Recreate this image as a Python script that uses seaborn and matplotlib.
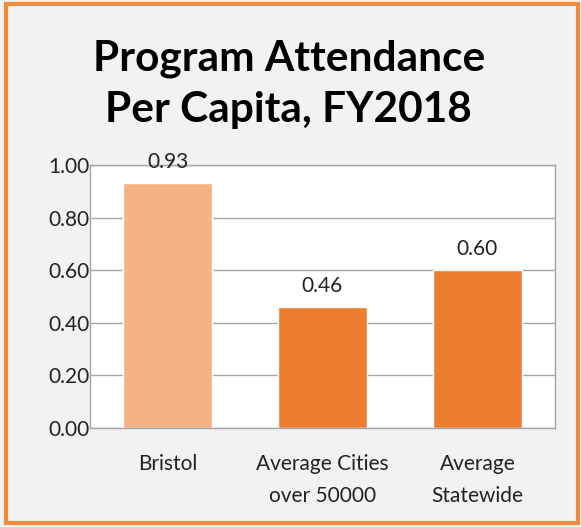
import matplotlib
matplotlib.use("Agg")
import matplotlib.pyplot as plt
import seaborn as sns
import pandas as pd
from matplotlib.patches import Rectangle

categories = ["Bristol", "Average Cities\nover 50000", "Average\nStatewide"]
values = [0.93, 0.46, 0.60]
bar_colors = ["#F4B183", "#ED7D31", "#ED7D31"]
yticks = [0.0, 0.2, 0.4, 0.6, 0.8, 1.0]
title_lines = ["Program Attendance", "Per Capita, FY2018"]

sns.set_theme(style="white")
plt.rcParams["font.family"] = ["Lato", "DejaVu Sans"]

df = pd.DataFrame({"category": categories, "value": values})

fig = plt.figure(figsize=(5.81, 5.27), dpi=100, facecolor="#F2F2F2")
ax = fig.add_axes([0.155, 0.188, 0.80, 0.499])
ax.set_facecolor("white")

sns.barplot(data=df, x="category", y="value", hue="category", palette=bar_colors,
            width=0.57, legend=False, ax=ax, saturation=1)

ax.set_ylim(0, 1.0)
ax.set_yticks(yticks)
ax.set_yticklabels([f"{t:.2f}" for t in yticks], fontsize=15, color="#222222")
ax.tick_params(axis="x", labelsize=15, colors="#222222", length=0, pad=19)
ax.tick_params(axis="y", length=0, pad=30)
for lbl in ax.get_yticklabels():
    lbl.set_horizontalalignment("left")
for lbl in ax.get_xticklabels():
    lbl.set_linespacing(1.75)
ax.yaxis.grid(True, color="#A6A6A6", linewidth=1)
ax.set_axisbelow(True)
ax.set_xlabel("")
ax.set_ylabel("")
for s in ax.spines.values():
    s.set_visible(True)
    s.set_color("#A6A6A6")
    s.set_linewidth(1)

for c in ax.containers:
    ax.bar_label(c, fmt="%.2f", fontsize=15, padding=8, color="#222222")

# title as two baseline-anchored lines
fig.text(0.497, 0.867, title_lines[0], ha="center", va="baseline",
         fontsize=30.5, fontweight="bold", color="black")
fig.text(0.497, 0.768, title_lines[1], ha="center", va="baseline",
         fontsize=30.5, fontweight="bold", color="black")

fig.patches.append(Rectangle((0.011, 0.008), 0.984, 0.985, transform=fig.transFigure,
                             fill=False, edgecolor="#F08A3C", linewidth=3))

fig.savefig("out.png", dpi=100, facecolor=fig.get_facecolor())
